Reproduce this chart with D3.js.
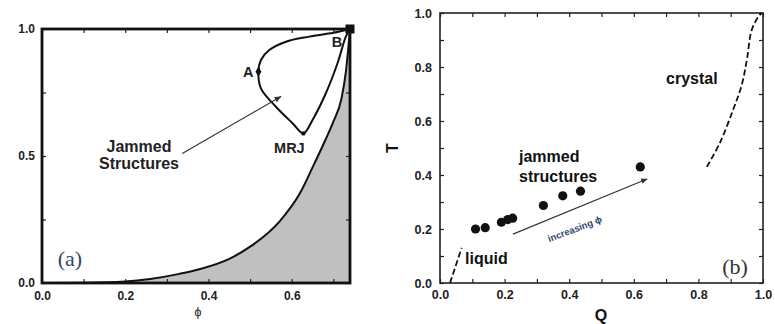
<!DOCTYPE html>
<html>
<head>
<meta charset="utf-8">
<script src="https://cdn.jsdelivr.net/npm/d3@7"></script>
<style>
body { margin: 0; background: #fff; }
svg { font-family: "Liberation Sans", Arial, sans-serif; }
</style>
</head>
<body>
<script>
// ---- panel (a): order metric vs packing fraction phi
var boundaryPhi   = [0, 0.1, 0.2, 0.26, 0.33, 0.38, 0.45, 0.5, 0.57, 0.62, 0.65, 0.68, 0.70, 0.72, 0.73, 0.74]
var boundaryOrder = [0, 0.001, 0.006, 0.016, 0.036, 0.055, 0.095, 0.143, 0.241, 0.354, 0.455, 0.56, 0.635, 0.73, 0.83, 1.0]

var loopPhi   = [0.74, 0.70, 0.642, 0.586, 0.546, 0.526, 0.52, 0.526, 0.562, 0.602, 0.628, 0.65, 0.682, 0.71, 0.73, 0.74]
var loopOrder = [1.0, 0.985, 0.97, 0.95, 0.917, 0.878, 0.832, 0.766, 0.694, 0.629, 0.589, 0.642, 0.747, 0.865, 0.97, 1.0]

var pointNames = ['A', 'MRJ', 'B']
var pointPhi   = [0.52, 0.628, 0.74]
var pointOrder = [0.832, 0.589, 1.0]

var phiTicks   = [0, 0.1, 0.2, 0.3, 0.4, 0.5, 0.6, 0.7]
var orderTicks = [0, 0.25, 0.5, 0.75, 1.0]

// ---- panel (b): T vs Q
var jammedQ = [0.11, 0.14, 0.19, 0.21, 0.225, 0.32, 0.38, 0.435, 0.62]
var jammedT = [0.20, 0.205, 0.225, 0.235, 0.24, 0.287, 0.323, 0.34, 0.43]

var crystalQ = [0.826, 0.867, 0.907, 0.934, 0.95, 0.965, 0.985, 0.996]
var crystalT = [0.43, 0.52, 0.64, 0.733, 0.826, 0.937, 0.985, 1.0]

var liquidQ = [0.031, 0.067]
var liquidT = [0.0, 0.13]

var qTicks = d3.range(0, 1.01, 0.1)
var tTicks = d3.range(0, 1.01, 0.1)

var svg = d3.select('body').append('svg')
  .attr('width', 775)
  .attr('height', 324)

svg.append('defs').html(
  '<marker id="ah" viewBox="0 0 10 10" refX="9" refY="5" markerWidth="6" markerHeight="6" orient="auto">' +
  '<path d="M0,1 L10,5 L0,9 z" fill="#333"/></marker>')

// ================= panel (a) =================
var xa = d3.scaleLinear().domain([0, 0.74]).range([42, 350])
var ya = d3.scaleLinear().domain([0, 1]).range([283, 29])

var ga = svg.append('g')

var boundary = boundaryPhi.map((p, i) => [p, boundaryOrder[i]])

ga.append('path')
  .datum(boundary)
  .attr('d', d3.area().curve(d3.curveMonotoneX).x(d => xa(d[0])).y0(ya(0)).y1(d => ya(d[1])))
  .attr('fill', '#c0c0c0')

ga.append('path')
  .datum(boundary)
  .attr('d', d3.line().curve(d3.curveMonotoneX).x(d => xa(d[0])).y(d => ya(d[1])))
  .attr('fill', 'none')
  .attr('stroke', '#111')
  .attr('stroke-width', 2)

ga.append('path')
  .datum(loopPhi.map((p, i) => [p, loopOrder[i]]))
  .attr('d', d3.line().curve(d3.curveCatmullRom).x(d => xa(d[0])).y(d => ya(d[1])))
  .attr('fill', 'none')
  .attr('stroke', '#111')
  .attr('stroke-width', 2)

// ticks, inward on all sides
var fmtA = d => (Math.round(d * 10) % 2 === 0) ? d3.format('.1f')(d) : ''
ga.append('g').attr('transform', 'translate(0,283)')
  .call(d3.axisBottom(xa).tickValues(phiTicks).tickSizeInner(-4).tickSizeOuter(0).tickPadding(8).tickFormat(fmtA))
ga.append('g').attr('transform', 'translate(0,29)')
  .call(d3.axisTop(xa).tickValues(phiTicks).tickSizeInner(-4).tickSizeOuter(0).tickFormat(''))
ga.append('g').attr('transform', 'translate(42,0)')
  .call(d3.axisLeft(ya).tickValues(orderTicks).tickSizeInner(-4).tickSizeOuter(0).tickPadding(7)
    .tickFormat(d => d * 2 % 1 === 0 ? d3.format('.1f')(d) : ''))
ga.append('g').attr('transform', 'translate(350,0)')
  .call(d3.axisRight(ya).tickValues(orderTicks).tickSizeInner(-4).tickSizeOuter(0).tickFormat(''))

ga.selectAll('.domain').remove()
ga.selectAll('.tick line').attr('stroke', '#222').attr('stroke-width', 1.2)
ga.selectAll('.tick text')
  .attr('font-size', 12).attr('font-weight', 'bold').attr('fill', '#222')
  .attr('font-family', '"Liberation Sans", Arial, sans-serif')

ga.append('rect')
  .attr('x', 42).attr('y', 29).attr('width', 308).attr('height', 254)
  .attr('fill', 'none').attr('stroke', '#111').attr('stroke-width', 2.8)

// markers A, MRJ, B
ga.append('path')
  .attr('d', d3.symbol(d3.symbolDiamond, 30)())
  .attr('transform', `translate(${xa(pointPhi[0])},${ya(pointOrder[0])})`)
  .attr('fill', '#111')
ga.append('circle')
  .attr('cx', xa(pointPhi[1])).attr('cy', ya(pointOrder[1])).attr('r', 2.2)
  .attr('fill', '#111')
ga.append('rect')
  .attr('x', xa(pointPhi[2]) - 4.5).attr('y', ya(pointOrder[2]) - 4.5)
  .attr('width', 9).attr('height', 9).attr('fill', '#111')

var labA = { A: [-5, 5, 'end'], MRJ: [-14, 20, 'middle'], B: [-13, 18, 'middle'] }
pointNames.forEach((n, i) => {
  ga.append('text')
    .attr('x', xa(pointPhi[i]) + labA[n][0])
    .attr('y', ya(pointOrder[i]) + labA[n][1])
    .attr('text-anchor', labA[n][2])
    .attr('font-size', 14.5).attr('font-weight', 'bold').attr('fill', '#222')
    .text(n)
})

// arrow to jammed region
ga.append('line')
  .attr('x1', xa(0.337)).attr('y1', ya(0.51))
  .attr('x2', xa(0.574)).attr('y2', ya(0.734))
  .attr('stroke', '#333').attr('stroke-width', 1.2)
  .attr('marker-end', 'url(#ah)')

ga.append('text')
  .attr('x', 139).attr('y', 152)
  .attr('text-anchor', 'middle')
  .attr('font-size', 16).attr('font-weight', 'bold').attr('fill', '#222')
  .selectAll('tspan').data(['Jammed', 'Structures']).enter().append('tspan')
  .attr('x', 139).attr('dy', (d, i) => i ? 17 : 0)
  .text(d => d)

ga.append('text')
  .attr('x', 70).attr('y', 266)
  .attr('text-anchor', 'middle')
  .attr('font-family', '"Liberation Serif", "Times New Roman", serif')
  .attr('font-size', 22).attr('fill', '#34466e')
  .text('(a)')

ga.append('text')
  .attr('x', 198).attr('y', 316)
  .attr('text-anchor', 'middle')
  .attr('font-size', 13).attr('fill', '#333')
  .text('ϕ')

// ================= panel (b) =================
var xb = d3.scaleLinear().domain([0, 1]).range([440, 763])
var yb = d3.scaleLinear().domain([0, 1]).range([283, 13])

var gb = svg.append('g')

var fmtB = d => (Math.round(d * 10) % 2 === 0) ? d3.format('.1f')(d) : ''
gb.append('g').attr('transform', 'translate(0,283)')
  .call(d3.axisBottom(xb).tickValues(qTicks).tickSizeInner(-4).tickSizeOuter(0).tickPadding(7).tickFormat(fmtB))
gb.append('g').attr('transform', 'translate(0,13)')
  .call(d3.axisTop(xb).tickValues(qTicks).tickSizeInner(-4).tickSizeOuter(0).tickFormat(''))
gb.append('g').attr('transform', 'translate(440,0)')
  .call(d3.axisLeft(yb).tickValues(tTicks).tickSizeInner(-4).tickSizeOuter(0).tickPadding(8).tickFormat(fmtB))
gb.append('g').attr('transform', 'translate(763,0)')
  .call(d3.axisRight(yb).tickValues(tTicks).tickSizeInner(-4).tickSizeOuter(0).tickFormat(''))

gb.selectAll('.domain').remove()
gb.selectAll('.tick line').attr('stroke', '#222').attr('stroke-width', 1.2)
gb.selectAll('.tick text')
  .attr('font-size', 12.5).attr('font-weight', 'bold').attr('fill', '#222')
  .attr('font-family', '"Liberation Sans", Arial, sans-serif')

gb.append('rect')
  .attr('x', 440).attr('y', 13).attr('width', 323).attr('height', 270)
  .attr('fill', 'none').attr('stroke', '#222').attr('stroke-width', 1.6)

var lineB = d3.line().curve(d3.curveCatmullRom).x(d => xb(d[0])).y(d => yb(d[1]))

gb.append('path')
  .datum(crystalQ.map((q, i) => [q, crystalT[i]]))
  .attr('d', lineB)
  .attr('fill', 'none').attr('stroke', '#111').attr('stroke-width', 1.8)
  .attr('stroke-dasharray', '6,3')

gb.append('path')
  .datum(liquidQ.map((q, i) => [q, liquidT[i]]))
  .attr('d', lineB)
  .attr('fill', 'none').attr('stroke', '#111').attr('stroke-width', 1.8)
  .attr('stroke-dasharray', '6,3')

gb.selectAll('circle.jam')
  .data(jammedQ)
  .enter().append('circle')
  .attr('class', 'jam')
  .attr('cx', d => xb(d))
  .attr('cy', (d, i) => yb(jammedT[i]))
  .attr('r', 4.6)
  .attr('fill', '#111')

// increasing phi arrow
gb.append('line')
  .attr('x1', xb(0.226)).attr('y1', yb(0.181))
  .attr('x2', xb(0.641)).attr('y2', yb(0.385))
  .attr('stroke', '#333').attr('stroke-width', 1.1)
  .attr('marker-end', 'url(#ah)')

gb.append('text')
  .attr('transform', 'translate(576,232) rotate(-21)')
  .attr('text-anchor', 'middle')
  .attr('font-size', 9.5).attr('font-weight', 'bold').attr('fill', '#34466e')
  .text('increasing ϕ')

gb.append('text')
  .attr('x', 519).attr('y', 162)
  .attr('font-size', 16).attr('font-weight', 'bold').attr('fill', '#111')
  .selectAll('tspan').data(['jammed', 'structures']).enter().append('tspan')
  .attr('x', 519).attr('dy', (d, i) => i ? 20 : 0)
  .text(d => d)

gb.append('text')
  .attr('x', 666).attr('y', 84)
  .attr('font-size', 16).attr('font-weight', 'bold').attr('fill', '#111')
  .text('crystal')

gb.append('text')
  .attr('x', 465).attr('y', 264)
  .attr('font-size', 16).attr('font-weight', 'bold').attr('fill', '#111')
  .text('liquid')

gb.append('text')
  .attr('x', 735).attr('y', 274)
  .attr('text-anchor', 'middle')
  .attr('font-family', '"Liberation Serif", "Times New Roman", serif')
  .attr('font-size', 22).attr('fill', '#333')
  .text('(b)')

gb.append('text')
  .attr('x', 601).attr('y', 321)
  .attr('text-anchor', 'middle')
  .attr('font-size', 16).attr('font-weight', 'bold').attr('fill', '#111')
  .text('Q')

gb.append('text')
  .attr('transform', 'translate(398,148) rotate(-90)')
  .attr('text-anchor', 'middle')
  .attr('font-size', 16).attr('font-weight', 'bold').attr('fill', '#111')
  .text('T')
</script>
</body>
</html>
